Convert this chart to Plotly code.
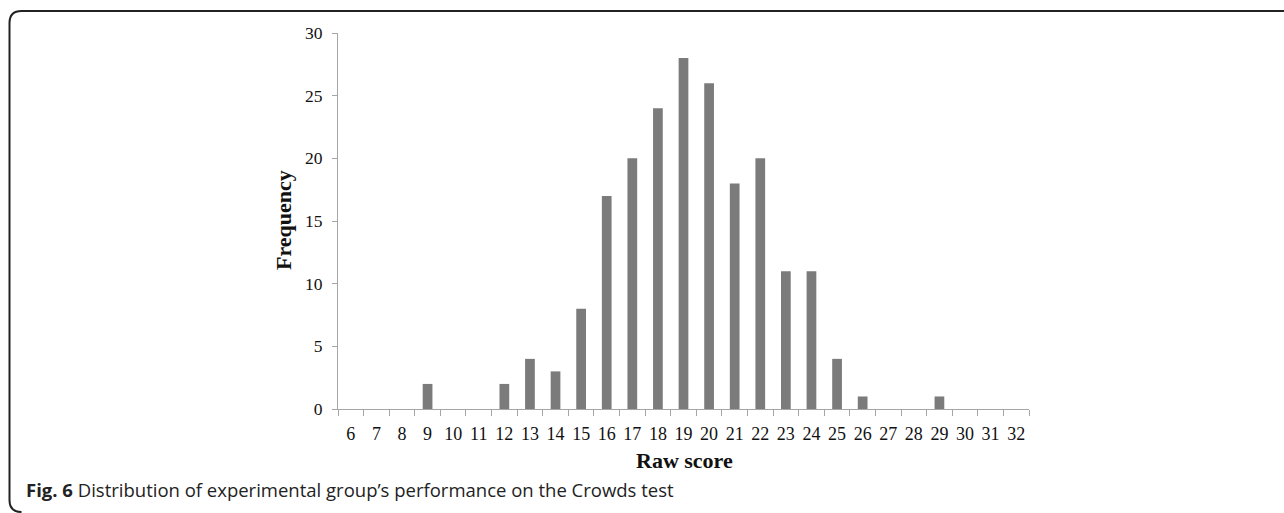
import plotly.graph_objects as go

scores = [str(s) for s in range(6, 33)]
freq_map = {9: 2, 12: 2, 13: 4, 14: 3, 15: 8, 16: 17, 17: 20, 18: 24, 19: 28,
            20: 26, 21: 18, 22: 20, 23: 11, 24: 11, 25: 4, 26: 1, 29: 1}
frequencies = [freq_map.get(s, 0) for s in range(6, 33)]
y_ticks = [0, 5, 10, 15, 20, 25, 30]

W, H = 1284, 513
L, R, T, B = 338, 1029, 33, 409

def px(x):
    return (x - L) / (R - L)

def py(y):
    return (B - y) / (B - T)

fig = go.Figure()
fig.add_trace(go.Bar(x=scores, y=frequencies, marker=dict(color="#7b7b7b", line=dict(width=0)),
                     width=0.38))

serif = "Liberation Serif, Times New Roman, serif"
fig.update_layout(
    width=W, height=H,
    margin=dict(l=L, r=W - R, t=T, b=H - B),
    paper_bgcolor="white", plot_bgcolor="white",
    showlegend=False,
    font=dict(family=serif, size=17, color="#111"),
    xaxis=dict(type="category", showline=True, linecolor="#a6a6a6", linewidth=1,
               ticks="outside", tickson="boundaries", ticklen=6, tickcolor="#a6a6a6",
               showgrid=False, tickfont=dict(family=serif, size=18, color="#111"),
               tickangle=0, ticklabelstandoff=8, fixedrange=True),
    yaxis=dict(range=[0, 30], tickvals=y_ticks, showline=True, linecolor="#a6a6a6",
               linewidth=1, ticks="outside", ticklen=5, tickcolor="#a6a6a6",
               showgrid=False, zeroline=False,
               tickfont=dict(family=serif, size=17.5, color="#111"), ticklabelstandoff=6),
)

fig.add_annotation(text="<b>Raw score</b>", xref="paper", yref="paper",
                   x=px(684), y=py(460), xanchor="center", yanchor="middle", showarrow=False,
                   font=dict(family=serif, size=22, color="#111"))
fig.add_annotation(text="<b>Frequency</b>", xref="paper", yref="paper",
                   x=px(283), y=py(220), xanchor="center", yanchor="middle",
                   showarrow=False, textangle=-90,
                   font=dict(family=serif, size=22, color="#111"))
fig.add_annotation(text="<b>Fig. 6</b> Distribution of experimental group’s performance on the Crowds test",
                   xref="paper", yref="paper", x=px(24), y=py(489), xanchor="left", yanchor="middle",
                   showarrow=False, font=dict(family="Open Sans, Noto Sans, sans-serif", size=18.5, color="#222"))

# rounded frame (left, top)
r = 12
x0, y0, y1, x1 = 9.5, 11, 512, 1290
path = (f"M {px(x1)},{py(y0)} L {px(x0 + r)},{py(y0)} "
        f"Q {px(x0)},{py(y0)} {px(x0)},{py(y0 + r)} "
        f"L {px(x0)},{py(y1 - r)} Q {px(x0)},{py(y1)} {px(x0 + r)},{py(y1)}")
fig.add_shape(type="path", xref="paper", yref="paper", path=path,
              line=dict(color="#222", width=2))

fig.write_html("out.html", config={"displayModeBar": False},
               post_script="document.body.style.margin='0';document.body.style.overflow='hidden';")
